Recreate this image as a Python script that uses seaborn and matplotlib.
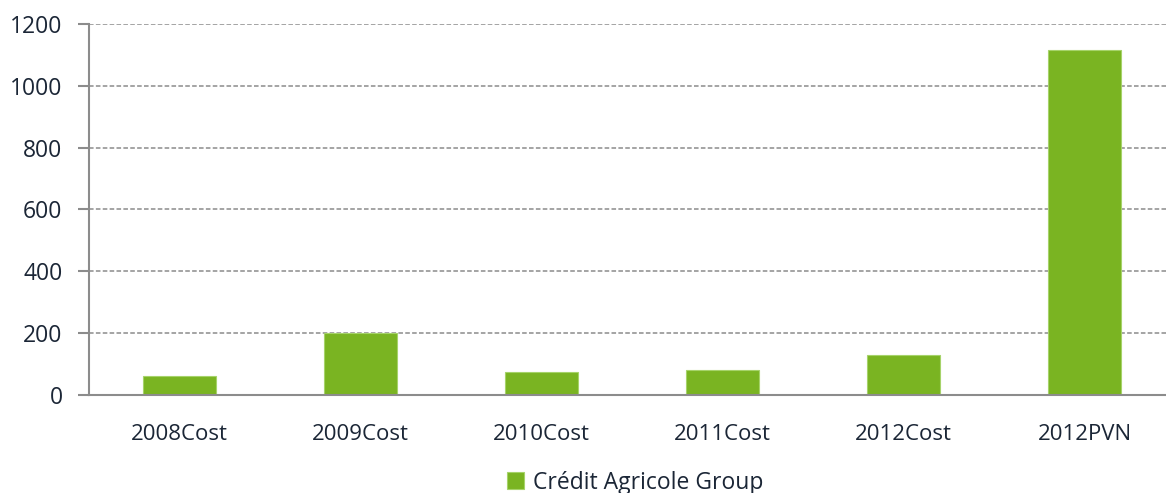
import numpy as np
import pandas as pd
import matplotlib
matplotlib.use("Agg")
import matplotlib.pyplot as plt
import seaborn as sns
from matplotlib.ticker import FixedLocator

# Chart data
categories = ["2008Cost", "2009Cost", "2010Cost", "2011Cost", "2012Cost", "2012PVN"]
values = [60, 200, 75, 80, 130, 1115]
series_name = "Crédit Agricole Group"
y_ticks = [0, 200, 400, 600, 800, 1000, 1200]

df = pd.DataFrame({"category": categories, "value": values})

sns.set_theme(style="white")
plt.rcParams["font.family"] = ["Open Sans", "DejaVu Sans"]

text_color = "#1b2636"
axis_gray = "#8c8c8c"
bar_green = "#7ab422"

fig = plt.figure(figsize=(11.66, 4.93), dpi=100)
ax = fig.add_axes([89 / 1166, 98 / 493, 1086 / 1166, 371 / 493])

sns.barplot(data=df, x="category", y="value", color=bar_green, saturation=1, width=0.4,
            edgecolor="#a6d36a", linewidth=0.8, label=series_name, ax=ax)

ax.set_xlim(-0.5, 5.5)
ax.set_ylim(0, 1200)
ax.set_yticks(y_ticks)
ax.set_xlabel("")
ax.set_ylabel("")

# dashed horizontal gridlines
ax.yaxis.grid(True, linestyle=(0, (3, 1.5)), color=axis_gray, linewidth=1.1)
ax.xaxis.grid(False)
ax.set_axisbelow(True)

for side in ["top", "right"]:
    ax.spines[side].set_visible(False)
for side in ["left", "bottom"]:
    ax.spines[side].set_color(axis_gray)
    ax.spines[side].set_linewidth(1.5)

# tick marks between categories, labels centred
ax.xaxis.set_minor_locator(FixedLocator(np.arange(-0.5, 6.0, 1.0)))
ax.tick_params(axis="x", which="major", length=0, pad=21, labelsize=16, labelcolor=text_color)
ax.tick_params(axis="x", which="minor", length=8, width=1.5, color=axis_gray, direction="out")
ax.tick_params(axis="y", which="major", length=8, width=1.5, color=axis_gray,
               direction="out", pad=11, labelsize=16.5, labelcolor=text_color, left=True)

if ax.legend_:
    ax.legend_.remove()
handles, labels = ax.get_legend_handles_labels()
fig.legend(handles[:1], [series_name], loc="lower center", bbox_to_anchor=(0.545, -0.045),
           frameon=False, fontsize=16.5, handlelength=0.75, handleheight=0.75,
           handletextpad=0.4, labelcolor=text_color)

fig.savefig("out.png", dpi=100)
